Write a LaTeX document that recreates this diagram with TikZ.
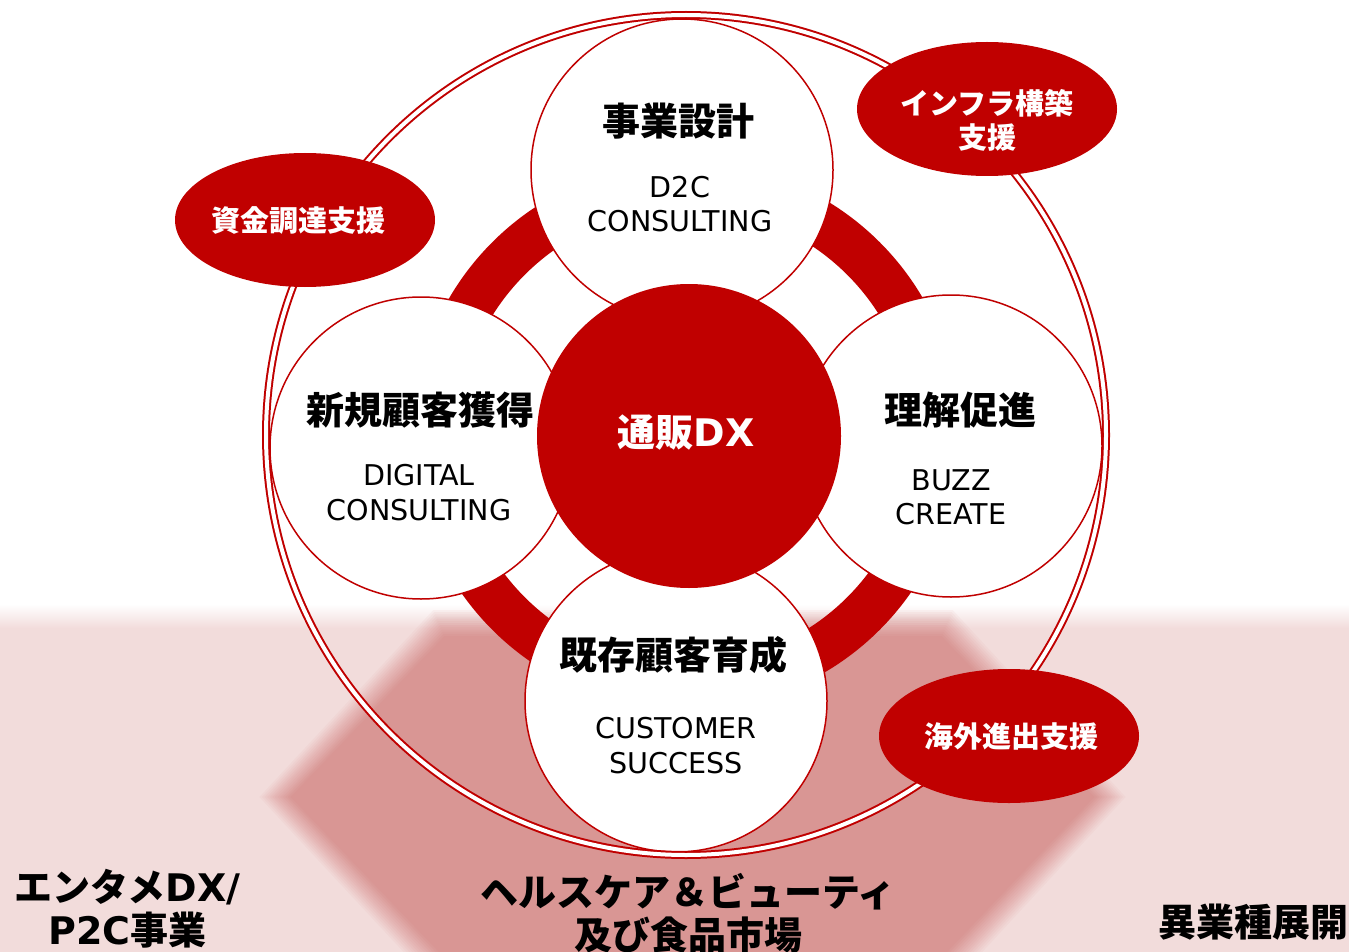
\documentclass[tikz,border=0pt]{standalone}
\usepackage{fontspec}
\setmainfont{Noto Sans CJK JP}
\newfontfamily\lat{DejaVu Sans}
\usetikzlibrary{shapes.geometric}
\definecolor{dxred}{HTML}{C00000}
\definecolor{bandpink}{HTML}{F2DCDB}
\definecolor{hexpink}{HTML}{D99694}
\begin{document}
\begin{tikzpicture}[x=1pt,y=-1pt,
  wcirc/.style={circle, draw=dxred, line width=1.5pt, fill=white, minimum size=302pt, inner sep=0pt},
  rcirc/.style={circle, fill=dxred, minimum size=304pt, inner sep=0pt},
  pill/.style={ellipse, fill=dxred, minimum width=260pt, minimum height=134pt, inner sep=0pt},
  title/.style={font=\fontsize{38}{44}\selectfont\bfseries, text=black, inner sep=0pt},
  sub/.style={font=\fontsize{28.6}{34.5}\selectfont\lat, align=center, text=black, inner sep=0pt},
  wlab/.style={font=\fontsize{29}{34}\selectfont\bfseries, text=white, align=center, inner sep=0pt},
  market/.style={font=\fontsize{38}{43}\selectfont\bfseries, align=center, text=black, inner sep=0pt},
]
\useasboundingbox (0,0) rectangle (1349,952);
% background
\fill[white] (0,0) rectangle (1349,952);
\shade[top color=white, bottom color=bandpink] (0,604) rectangle (1349,628);
\fill[bandpink] (0,628) rectangle (1349,952);
% soft hexagon
\foreach \k in {1,...,13} {
  \pgfmathsetmacro{\d}{13-13/6*(\k-1)}
  \pgfmathsetmacro{\a}{1/(14-\k)}
  \fill[hexpink, fill opacity=\a]
    (439-0.432*\d, 623-\d) -- (947+0.432*\d, 623-\d) -- (1110+1.2*\d, 797)
    -- (947+0.432*\d, 971+\d) -- (439-0.432*\d, 971+\d) -- (275-1.2*\d, 797) -- cycle;
}
% thick ring
\node[circle, draw=dxred, line width=46pt, minimum size=502pt, inner sep=0pt] (ring) at (686,436) {};
% white circles
\node[wcirc] (plan) at (682,170) {};
\node[wcirc] (acq) at (421,448) {};
\node[wcirc] (buzz) at (951,446) {};
\node[wcirc] (cs) at (676,701) {};
% outer double circle
\node[circle, draw=dxred, line width=2pt, double=white, double distance=4pt, minimum size=840pt, inner sep=0pt] (outer) at (686,435) {};
% centre
\node[rcirc] (core) at (689,436) {};
% red ellipses
\node[pill] (fund) at (305,220) {};
\node[pill] (infra) at (987,109) {};
\node[pill] (global) at (1009,736) {};
% texts
\node[title] (plant) at (678,121) {事業設計};
\node[sub] (plans) at (680,204) {D2C\\CONSULTING};
\node[title] (acqt) at (420,410) {新規顧客獲得};
\node[sub] (acqs) at (419,492.5) {DIGITAL\\CONSULTING};
\node[title] (buzzt) at (960,410) {理解促進};
\node[sub] (buzzs) at (951,497.5) {BUZZ\\CREATE};
\node[title] (cst) at (673,655) {既存顧客育成};
\node[sub] (css) at (676,745.5) {CUSTOMER\\SUCCESS};
\node[title, text=white] (coret) at (686,433) {通販{\lat DX}};
\node[wlab] (fundt) at (298,220) {資金調達支援};
\node[wlab] (infrat) at (987,120) {インフラ構築\\支援};
\node[wlab] (globalt) at (1011,736) {海外進出支援};
\node[market] (ent) at (127.5,908.5) {エンタメ{\lat DX/}\\{\lat P2C}事業};
\node[market] (hb) at (688,913.5) {ヘルスケア＆ビューティ\\及び食品市場};
\node[market] (other) at (1253.5,922) {異業種展開};
\end{tikzpicture}
\end{document}
